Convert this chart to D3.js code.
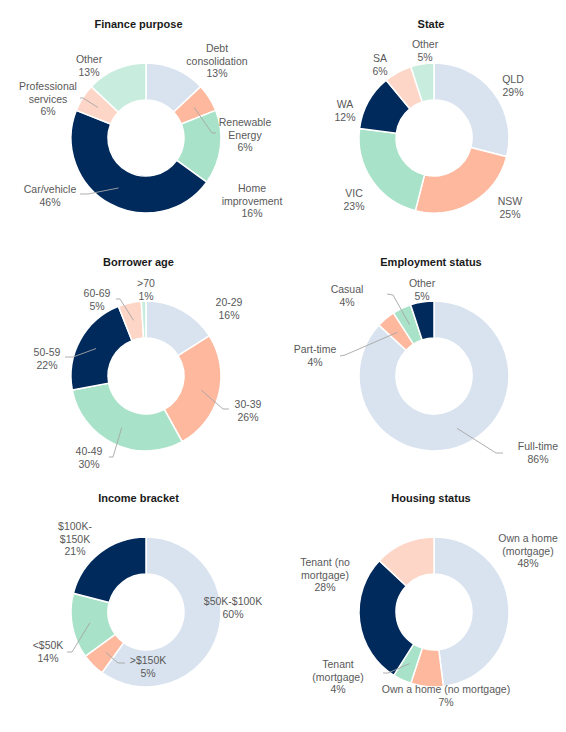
<!DOCTYPE html>
<html>
<head>
<meta charset="utf-8">
<script src="https://cdn.jsdelivr.net/npm/d3@7"></script>
<style>
  html, body { margin: 0; padding: 0; background: #ffffff; }
  svg { display: block; }
</style>
</head>
<body>
<svg id="chart" width="566" height="732"></svg>
<script>
// ---------------- DATA ----------------
const financeCategories = ["Debt\nconsolidation", "Renewable\nEnergy", "Home\nimprovement", "Car/vehicle", "Professional\nservices", "Other"];
const financeValues = [13, 6, 16, 46, 6, 13];

const stateCategories = ["QLD", "NSW", "VIC", "WA", "SA", "Other"];
const stateValues = [29, 25, 23, 12, 6, 5];

const ageCategories = ["20-29", "30-39", "40-49", "50-59", "60-69", ">70"];
const ageValues = [16, 26, 30, 22, 5, 1];

const employmentCategories = ["Full-time", "Part-time", "Casual", "Other"];
const employmentValues = [86, 4, 4, 5];

const incomeCategories = ["$50K-$100K", ">$150K", "<$50K", "$100K-\n$150K"];
const incomeValues = [60, 5, 14, 21];

const housingCategories = ["Own a home\n(mortgage)", "Own a home (no mortgage)", "Tenant\n(mortgage)", "Tenant (no\nmortgage)", ""];
const housingValues = [48, 7, 4, 28, 13];

const chartTitles = ["Finance purpose", "State", "Borrower age", "Employment status", "Income bracket", "Housing status"];

const palette = ["#d9e3ef", "#fdb89d", "#a8e2c8", "#002a5c", "#fdd6c8", "#c8ecdd"];

// ---------------- LAYOUT (positions kept separate from data) ----------------
const layout = [
  { cx: 146, cy: 138, tdx: -7.5,
    labels: [[71,-77],[99,-3],[106,63],[-96,58],[-98,-39],[-57,-72]],
    leaders: [null, [[66,-5],[70,-5]], null, [[-58,56],[-66,56]], [[-63,-40],[-66,-40]], null] },
  { cx: 434, cy: 138, tdx: -3,
    labels: [[79,-52],[76,70],[-80,62],[-89,-27],[-54,-73],[-9,-87]],
    leaders: [null,null,null,null,null,null] },
  { cx: 146, cy: 376, tdx: -7.5,
    labels: [[83,-67],[102,35],[-57,82],[-99,-17],[-49,-76],[0,-86]],
    leaders: [null, [[77,33],[83,33]], [[-33,81],[-37,81]], [[-73,-19],[-81,-19]], [[-26,-77],[-30,-77]], null] },
  { cx: 434, cy: 376, tdx: -3,
    labels: [[104,77],[-119,-20],[-87,-80],[-12,-86]],
    leaders: [[[62,77],[69,77]], [[-89,-21],[-94,-20]], [[-41,-81],[-47,-82]], null] },
  { cx: 146, cy: 612, tdx: -7.5,
    labels: [[87,-4],[2,55],[-98,40],[-71,-73]],
    leaders: [null, [[-28,51],[-21,51]], [[-74,40],[-79,40]], null] },
  { cx: 434, cy: 612, tdx: -3,
    labels: [[94,-61],[12,84],[-96,65],[-109,-37],null],
    leaders: [null, null, [[-46,61],[-51,61]], null, null] }
];

const charts = [
  { cats: financeCategories, vals: financeValues },
  { cats: stateCategories, vals: stateValues },
  { cats: ageCategories, vals: ageValues },
  { cats: employmentCategories, vals: employmentValues },
  { cats: incomeCategories, vals: incomeValues },
  { cats: housingCategories, vals: housingValues }
];

// ---------------- DRAW ----------------
const svg = d3.select("#chart");
const outerR = 75, innerR = 38;
const arc = d3.arc().innerRadius(innerR).outerRadius(outerR);
const midArc = d3.arc().innerRadius(57).outerRadius(57);
const pie = d3.pie().sort(null).value(d => d.v);
const color = d3.scaleOrdinal().domain(d3.range(6)).range(palette);
const fontFam = "'Liberation Sans', Arial, sans-serif";
const lineH = 12.5;

charts.forEach((c, ci) => {
  const L = layout[ci];
  const g = svg.append("g").attr("transform", `translate(${L.cx},${L.cy})`);
  const data = c.cats.map((name, i) => ({ name, v: c.vals[i], i }));
  const arcs = pie(data);

  // title
  g.append("text")
    .attr("x", L.tdx)
    .attr("y", -110)
    .attr("text-anchor", "middle")
    .attr("font-family", fontFam)
    .attr("font-size", 11)
    .attr("font-weight", "bold")
    .attr("fill", "#1a1a1a")
    .text(chartTitles[ci]);

  // slices
  g.selectAll("path.slice")
    .data(arcs)
    .enter().append("path")
    .attr("class", "slice")
    .attr("d", arc)
    .attr("fill", d => color(d.data.i))
    .attr("stroke", "#ffffff")
    .attr("stroke-width", 1.5);

  // leader lines
  arcs.forEach((a, i) => {
    const ld = L.leaders[i];
    if (!ld) return;
    const start = midArc.centroid(a);
    const pts = [start, ld[0], ld[1]];
    g.append("path")
      .attr("d", d3.line()(pts))
      .attr("fill", "none")
      .attr("stroke", "#a6a6a6")
      .attr("stroke-width", 0.9);
  });

  // labels
  arcs.forEach((a, i) => {
    const pos = L.labels[i];
    if (!pos || !a.data.name) return;
    const lines = a.data.name.split("\n").concat([a.data.v + "%"]);
    const t = g.append("text")
      .attr("text-anchor", "middle")
      .attr("font-family", fontFam)
      .attr("font-size", 10.5)
      .attr("fill", "#595959");
    const firstY = pos[1] - (lines.length - 1) * lineH / 2 + 3.7;
    lines.forEach((ln, k) => {
      t.append("tspan")
        .attr("x", pos[0])
        .attr("y", firstY + k * lineH)
        .text(ln);
    });
  });
});
</script>
</body>
</html>
